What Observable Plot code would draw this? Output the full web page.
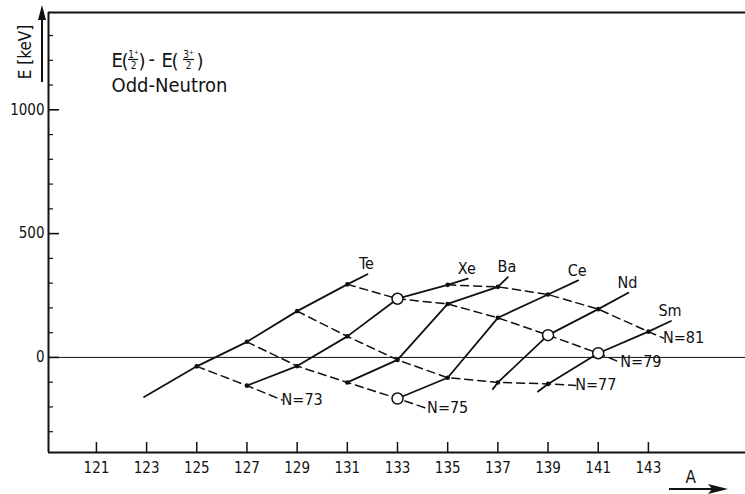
<!DOCTYPE html>
<html>
<head>
<meta charset="utf-8">
<script src="https://cdn.jsdelivr.net/npm/d3@7"></script>
<script src="https://cdn.jsdelivr.net/npm/@observablehq/plot@0.6"></script>
<style>
  html, body { margin: 0; padding: 0; background: #fff; }
  #chart svg { display: block; }
</style>
</head>
<body>
<div id="chart"></div>
<script>
// E(1/2+) − E(3/2+) in keV against mass number A, one chain per element: [A, E]
const Te = [[125, -36], [127, 63], [129, 187], [131, 295]];
const Xe = [[127, -114], [129, -35], [131, 85], [133, 237], [135, 293]];
const Ba = [[131, -101], [133, -10], [135, 216], [137, 285]];
const Ce = [[133, -166], [135, -82], [137, 160], [139, 254]];
const Nd = [[137, -101], [139, 90], [141, 195]];
const Sm = [[139, -107], [141, 17], [143, 104]];

const elements = ["Te", "Xe", "Ba", "Ce", "Nd", "Sm"];
const protonNumber = {Te: 52, Xe: 54, Ba: 56, Ce: 58, Nd: 60, Sm: 62};
const chains = {Te, Xe, Ba, Ce, Nd, Sm};

// isotopes drawn as open circles: [element, A]
const openCircles = [["Xe", 133], ["Ce", 133], ["Nd", 139], ["Sm", 141]];

// solid element lines run on past the first / last isotope to these [A, E]
const elementLineStart = {Te: [122.9, -160], Nd: [136.8, -128], Sm: [138.6, -138]};
const elementLineEnd = {Te: [131.8, 336], Xe: [135.8, 318], Ba: [137.4, 324], Ce: [140.2, 311], Nd: [142.2, 261], Sm: [143.9, 147]};

// dashed isotone lines (constant neutron number) and their free ends [A, E]
const isotones = [73, 75, 77, 79, 81];
const isotoneLineEnd = {73: [128.4, -172], 75: [134.2, -207], 77: [140.1, -113], 79: [141.9, -21], 81: [143.6, 78]};

// axes
const xTicks = [121, 123, 125, 127, 129, 131, 133, 135, 137, 139, 141, 143];
const yMajorTicks = [0, 500, 1000];
const yMinorTicks = [-300, -200, -100, 100, 200, 300, 400, 600, 700, 800, 900, 1100, 1200, 1300];
const xDomain = [119.09, 146.87];
const yDomain = [-384, 1393];

// ---- layout ----
const W = 745, H = 494;
const mL = 48, mT = 12, mR = 0, mB = 42;
const kx = (W - mL - mR) / (xDomain[1] - xDomain[0]); // px per unit of A
const ky = (H - mT - mB) / (yDomain[1] - yDomain[0]); // px per keV
const font = "'Liberation Sans Narrow', 'DejaVu Sans Condensed', 'Arial Narrow', Roboto, sans-serif";

// ---- derived tables ----
const points = elements.flatMap(el => chains[el].map(([A, E]) => ({
  el, A, E, N: A - protonNumber[el],
  open: openCircles.some(([e, a]) => e === el && a === A)
})));

const elementPaths = elements.flatMap(el => {
  const pts = chains[el].map(([A, E]) => ({el, A, E}));
  if (elementLineStart[el]) pts.unshift({el, A: elementLineStart[el][0], E: elementLineStart[el][1]});
  if (elementLineEnd[el]) pts.push({el, A: elementLineEnd[el][0], E: elementLineEnd[el][1]});
  return pts;
});

const isotonePaths = isotones.flatMap(N => {
  const pts = points.filter(p => p.N === N).sort((a, b) => a.A - b.A).map(p => ({N, A: p.A, E: p.E}));
  pts.push({N, A: isotoneLineEnd[N][0], E: isotoneLineEnd[N][1]});
  return pts;
});

const elementLabels = elements.map(el => ({el, A: elementLineEnd[el][0], E: elementLineEnd[el][1]}));
const isotoneLabelOffset = {73: [5, 1], 75: [5, 2], 77: [-8, 14], 79: [14, 9], 81: [6, 1]};
const isotoneLabels = isotones.map(N => ({
  N, A: isotoneLineEnd[N][0], E: isotoneLineEnd[N][1],
  dx: isotoneLabelOffset[N][0], dy: isotoneLabelOffset[N][1]
}));

// title pieces: glyph runs with their baseline position in px
const titlePieces = [
  {t: "E", x: 111, y: 66, s: 20, a: "start"},
  {t: "(", x: 121, y: 67, s: 20, a: "start"},
  {t: "1⁺", x: 133, y: 57, s: 10, a: "middle"},
  {t: "2", x: 133, y: 68, s: 10, a: "middle"},
  {t: ")", x: 138, y: 67, s: 20, a: "start"},
  {t: "-", x: 148, y: 65, s: 20, a: "start"},
  {t: "E", x: 161, y: 66, s: 20, a: "start"},
  {t: "(", x: 171, y: 67, s: 20, a: "start"},
  {t: "3⁺", x: 188, y: 57, s: 10, a: "middle"},
  {t: "2", x: 188, y: 68, s: 10, a: "middle"},
  {t: ")", x: 196, y: 67, s: 20, a: "start"},
  {t: "Odd-Neutron", x: 111, y: 91, s: 20, a: "start"}
];

const titleMarks = titlePieces.map(p => Plot.text([p.t], {
  text: d => d, frameAnchor: "top-left", dx: p.x - mL, dy: p.y - mT,
  lineAnchor: "bottom", textAnchor: p.a, fontSize: p.s, fill: "#111"
}));

const svg = Plot.plot({
  width: W, height: H,
  marginLeft: mL, marginTop: mT, marginRight: mR, marginBottom: mB,
  x: {domain: xDomain, axis: null},
  y: {domain: yDomain, axis: null},
  style: {fontFamily: font, background: "#fff", color: "#111", overflow: "visible"},
  marks: [
    // frame: left axis, top edge, bottom axis
    Plot.ruleX([xDomain[0]], {stroke: "#111", strokeWidth: 2}),
    Plot.ruleY([yDomain[1]], {stroke: "#111", strokeWidth: 1.8}),
    Plot.ruleY([yDomain[0]], {stroke: "#111", strokeWidth: 2}),
    // zero line
    Plot.ruleY([0], {stroke: "#111", strokeWidth: 1}),
    // inward ticks
    Plot.ruleY(yMinorTicks, {y: d => d, x1: xDomain[0], x2: xDomain[0] + 5 / kx, stroke: "#111", strokeWidth: 1.2}),
    Plot.ruleY(yMajorTicks, {y: d => d, x1: xDomain[0], x2: xDomain[0] + 11 / kx, stroke: "#111", strokeWidth: 1.6}),
    Plot.ruleX(xTicks, {x: d => d, y1: yDomain[0], y2: yDomain[0] + 10 / ky, stroke: "#111", strokeWidth: 1.5}),
    // tick labels
    Plot.text(xTicks, {x: d => d, y: yDomain[0], dy: 16, text: d => String(d), fontSize: 15, fill: "#111"}),
    Plot.text(yMajorTicks, {x: xDomain[0], y: d => d, dx: -4, textAnchor: "end", text: d => String(d), fontSize: 15, fill: "#111"}),
    // x axis title
    Plot.text(["A"], {text: d => d, frameAnchor: "bottom-left", dx: 685 - mL, dy: 30, fontSize: 17, fill: "#111"}),
    // isotone lines (dashed)
    Plot.line(isotonePaths, {x: "A", y: "E", z: "N", stroke: "#111", strokeWidth: 1.5, strokeDasharray: "8,5", curve: "linear"}),
    // element lines (solid)
    Plot.line(elementPaths, {x: "A", y: "E", z: "el", stroke: "#111", strokeWidth: 1.8, curve: "linear"}),
    // isotopes
    Plot.dot(points.filter(p => !p.open), {x: "A", y: "E", r: 2.3, fill: "#111", stroke: "none"}),
    Plot.dot(points.filter(p => p.open), {x: "A", y: "E", r: 5.5, fill: "#fff", stroke: "#111", strokeWidth: 1.5}),
    // labels
    Plot.text(elementLabels, {x: "A", y: "E", text: "el", dy: -10, dx: -1, fontSize: 16, fill: "#111"}),
    Plot.text(isotoneLabels, {x: "A", y: "E", text: d => `N=${d.N}`, dx: d => d.dx, dy: d => d.dy, textAnchor: "start", fontSize: 16, fill: "#111"}),
    ...titleMarks
  ]
});

// y axis title, fraction bars and axis arrows
const g = d3.select(svg).append("g").attr("stroke", "#111").attr("fill", "#111");
g.append("text")
  .attr("transform", "translate(25,52) rotate(-90)")
  .attr("text-anchor", "middle").attr("dy", "0.35em")
  .attr("stroke", "none").attr("font-family", font).attr("font-size", 17)
  .text("E [keV]");
g.append("line").attr("x1", 128).attr("x2", 138).attr("y1", 59.5).attr("y2", 59.5).attr("stroke-width", 1.2);
g.append("line").attr("x1", 183).attr("x2", 194).attr("y1", 59.5).attr("y2", 59.5).attr("stroke-width", 1.2);
g.append("line").attr("x1", 42).attr("x2", 42).attr("y1", 82).attr("y2", 18).attr("stroke-width", 2);
g.append("path").attr("d", "M42,5 L38,20 L46,20 Z").attr("stroke", "none");
g.append("line").attr("x1", 669).attr("x2", 712).attr("y1", 489).attr("y2", 489).attr("stroke-width", 2);
g.append("path").attr("d", "M728,489 L708,484 L712,489 L708,494 Z").attr("stroke", "none");

document.getElementById("chart").append(svg);
</script>
</body>
</html>
